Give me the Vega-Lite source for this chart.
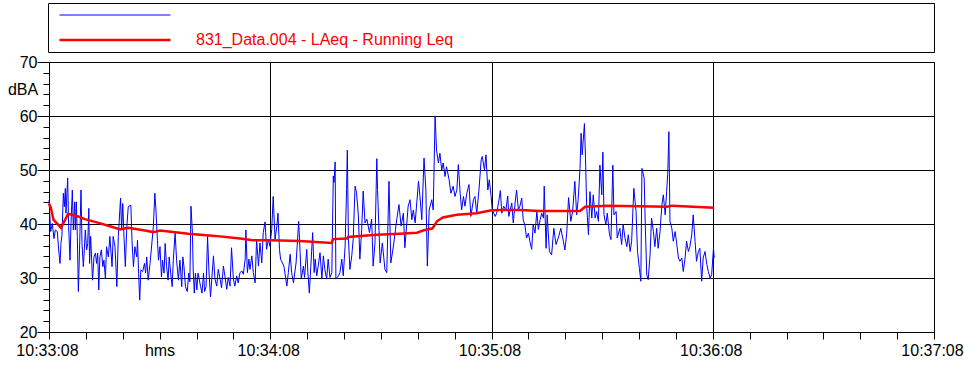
{
  "$schema": "https://vega.github.io/schema/vega-lite/v6.json",
  "autosize": "none",
  "width": 885,
  "height": 270,
  "padding": {"left": 49, "top": 62, "right": 30, "bottom": 33},
  "background": "white",
  "config": {
    "font": "Liberation Sans",
    "view": {"stroke": "black", "strokeWidth": 1},
    "axis": {
      "labelFont": "Liberation Sans",
      "labelFontSize": 16,
      "labelColor": "black",
      "titleFont": "Liberation Sans",
      "titleFontSize": 16,
      "titleFontWeight": "normal",
      "titleColor": "black",
      "domainColor": "black",
      "tickColor": "black",
      "gridColor": "black",
      "gridOpacity": 1,
      "labelFlush": false,
      "labelOverlap": false
    }
  },
  "datasets": {
    "laeq": [
      {"t":0,"v":44.4},{"t":0.45,"v":38.6},{"t":0.9,"v":40.1},{"t":1.36,"v":37.3},{"t":1.72,"v":38.9},{"t":2.26,"v":38.6},{"t":2.62,"v":35.2},{"t":2.98,"v":32.7},{"t":3.25,"v":36.4},{"t":3.52,"v":38.0},{"t":3.89,"v":45.7},{"t":4.16,"v":43.2},{"t":4.43,"v":46.6},{"t":4.61,"v":42.0},{"t":5.06,"v":48.5},{"t":5.33,"v":39.5},{"t":5.7,"v":33.3},{"t":5.97,"v":40.1},{"t":6.33,"v":46.3},{"t":6.6,"v":38.9},{"t":6.96,"v":44.1},{"t":7.14,"v":38.9},{"t":7.41,"v":44.1},{"t":7.68,"v":37.7},{"t":7.96,"v":27.5},{"t":8.23,"v":33.9},{"t":8.68,"v":46.3},{"t":8.95,"v":36.4},{"t":9.31,"v":32.1},{"t":9.58,"v":35.2},{"t":9.85,"v":38.9},{"t":10.2,"v":35.2},{"t":10.5,"v":36.4},{"t":10.8,"v":42.9},{"t":11.0,"v":32.7},{"t":11.3,"v":37.7},{"t":11.8,"v":29.6},{"t":12.2,"v":33.9},{"t":12.6,"v":34.6},{"t":12.9,"v":32.7},{"t":13.2,"v":34.6},{"t":13.5,"v":27.8},{"t":13.8,"v":33.9},{"t":14.2,"v":35.2},{"t":14.6,"v":32.1},{"t":14.9,"v":33.3},{"t":15.3,"v":29.9},{"t":15.6,"v":35.8},{"t":16.1,"v":33.9},{"t":16.5,"v":37.7},{"t":17.1,"v":32.1},{"t":17.4,"v":37.7},{"t":17.9,"v":35.8},{"t":18.4,"v":28.4},{"t":18.8,"v":37.7},
      {"t":19.4,"v":44.8},{"t":19.7,"v":38.9},{"t":20.0,"v":43.8},{"t":20.3,"v":38.3},{"t":20.7,"v":32.1},{"t":21.1,"v":39.5},{"t":21.5,"v":43.2},{"t":22.2,"v":43.5},{"t":22.5,"v":37.0},{"t":22.9,"v":32.1},{"t":23.3,"v":35.8},{"t":23.8,"v":33.9},{"t":24.0,"v":37.0},{"t":24.3,"v":30.9},{"t":24.6,"v":25.9},{"t":24.9,"v":31.5},{"t":25.4,"v":31.2},{"t":25.9,"v":32.7},{"t":26.2,"v":30.9},{"t":26.5,"v":33.9},{"t":26.9,"v":29.6},{"t":27.4,"v":32.7},{"t":28.3,"v":39.5},{"t":28.7,"v":45.7},{"t":29.0,"v":42.6},{"t":29.4,"v":37.0},{"t":29.7,"v":33.3},{"t":30.1,"v":35.8},{"t":30.5,"v":30.2},{"t":30.8,"v":33.3},{"t":31.2,"v":30.9},{"t":31.5,"v":36.4},{"t":31.9,"v":32.1},{"t":32.3,"v":29.6},{"t":32.6,"v":33.9},{"t":33.0,"v":30.9},{"t":33.4,"v":28.4},{"t":33.7,"v":33.3},{"t":34.2,"v":38.3},{"t":34.6,"v":33.3},{"t":35.1,"v":29.6},{"t":35.5,"v":33.3},{"t":36.0,"v":28.4},{"t":36.3,"v":33.9},{"t":36.6,"v":32.1},{"t":37.0,"v":28.4},{"t":37.5,"v":27.5},{"t":37.9,"v":30.9},{"t":38.2,"v":29.3},{"t":38.5,"v":43.3},{"t":38.9,"v":38.3},{"t":39.1,"v":31.5},{"t":39.4,"v":27.2},{"t":39.7,"v":30.9},{"t":40.1,"v":27.8},{"t":40.4,"v":30.9},{"t":40.8,"v":29.6},{"t":41.1,"v":28.4},{"t":41.5,"v":27.2},{"t":41.9,"v":30.9},{"t":42.2,"v":27.5},{"t":42.6,"v":28.4},{"t":43.0,"v":37.7},{"t":43.4,"v":30.9},{"t":43.8,"v":26.5},
      {"t":44.6,"v":34.1},{"t":45.0,"v":29.8},{"t":45.5,"v":28.5},{"t":45.9,"v":31.6},{"t":46.4,"v":29.8},{"t":46.8,"v":28.2},{"t":47.3,"v":32.2},{"t":47.7,"v":30.4},{"t":48.2,"v":27.9},{"t":48.6,"v":30.1},{"t":49.1,"v":28.5},{"t":49.5,"v":35.6},{"t":50.0,"v":29.8},{"t":50.4,"v":28.5},{"t":50.9,"v":30.4},{"t":51.3,"v":29.1},{"t":51.8,"v":31.0},{"t":52.3,"v":31.3},{"t":52.7,"v":30.7},{"t":53.2,"v":33.5},{"t":53.4,"v":38.9},{"t":53.8,"v":31.0},{"t":54.2,"v":33.5},{"t":54.5,"v":31.6},{"t":55.0,"v":34.1},{"t":55.4,"v":31.0},{"t":55.9,"v":29.1},{"t":56.3,"v":37.2},{"t":56.8,"v":32.2},{"t":57.2,"v":36.5},{"t":57.7,"v":32.8},{"t":58.1,"v":38.4},{"t":58.6,"v":40.4},{"t":59.0,"v":35.3},{"t":59.5,"v":37.2},{"t":59.9,"v":35.9},{"t":60.4,"v":39.0},{"t":60.8,"v":45.1},{"t":61.3,"v":37.2},{"t":61.8,"v":39.6},{"t":62.1,"v":42.0},{"t":62.5,"v":35.3},{"t":62.8,"v":33.5},{"t":63.7,"v":32.2},{"t":64.5,"v":28.5},{"t":64.9,"v":31.0},{"t":65.4,"v":34.4},{"t":65.8,"v":31.0},{"t":66.3,"v":29.1},{"t":67.0,"v":32.8},{"t":67.3,"v":35.9},{"t":67.7,"v":40.5},{"t":68.1,"v":34.7},{"t":68.4,"v":29.8},{"t":69.0,"v":32.2},{"t":69.3,"v":30.1},{"t":69.9,"v":35.3},{"t":70.2,"v":31.0},{"t":70.6,"v":27.2},{"t":71.0,"v":32.2},{"t":71.5,"v":38.4},{"t":71.9,"v":31.0},{"t":72.2,"v":33.5},{"t":72.6,"v":30.4},{"t":73.0,"v":32.2},{"t":73.5,"v":34.7},{"t":74.0,"v":29.8},{"t":74.4,"v":34.1},{"t":74.8,"v":31.6},{"t":75.3,"v":29.8},{"t":75.7,"v":33.5},{"t":76.2,"v":30.1},{"t":76.7,"v":31.0},{"t":77.1,"v":48.9},{"t":77.3,"v":47.7},{"t":77.6,"v":51.5},{"t":77.8,"v":29.8},{"t":78.5,"v":30.4},{"t":78.9,"v":31.0},{"t":79.4,"v":33.5},{"t":79.8,"v":30.4},{"t":80.3,"v":35.9},{"t":80.7,"v":46.4},{"t":80.9,"v":53.7},{"t":81.2,"v":37.2},{"t":81.6,"v":31.6},{"t":82.1,"v":34.1},{"t":82.5,"v":37.2},{"t":83.0,"v":47.0},{"t":83.4,"v":45.8},{"t":83.9,"v":41.5},{"t":84.3,"v":33.5},{"t":84.8,"v":39.0},{"t":85.2,"v":46.1},{"t":85.7,"v":40.2},{"t":86.2,"v":40.9},{"t":86.9,"v":38.4},{"t":87.5,"v":40.9},{"t":87.9,"v":32.2},{"t":88.4,"v":36.5},{"t":88.9,"v":52.1},{"t":89.1,"v":46.4},
      {"t":89.8,"v":32.8},{"t":90.4,"v":36.5},{"t":91.1,"v":31.6},{"t":91.6,"v":31.0},{"t":92.2,"v":47.9},{"t":92.7,"v":32.8},{"t":93.4,"v":35.9},{"t":94.3,"v":40.8},{"t":94.9,"v":43.6},{"t":95.5,"v":39.6},{"t":96.1,"v":42.0},{"t":96.5,"v":35.6},{"t":97.4,"v":43.3},{"t":97.9,"v":44.5},{"t":98.4,"v":40.8},{"t":98.8,"v":42.6},{"t":99.3,"v":40.2},{"t":100.2,"v":47.9},{"t":100.6,"v":45.1},{"t":101.1,"v":40.8},{"t":101.7,"v":52.2},{"t":102.2,"v":46.3},{"t":102.6,"v":32.2},{"t":103.1,"v":42.6},{"t":103.8,"v":44.5},{"t":104.2,"v":42.6},{"t":104.7,"v":60.0},{"t":105.1,"v":53.7},{"t":105.6,"v":51.3},{"t":106.0,"v":53.1},{"t":106.5,"v":50.0},{"t":106.9,"v":51.3},{"t":107.4,"v":48.8},{"t":107.8,"v":50.6},{"t":108.5,"v":48.2},{"t":109.0,"v":45.7},{"t":109.6,"v":47.0},{"t":110.1,"v":45.1},{"t":110.6,"v":46.3},{"t":111.0,"v":51.0},{"t":111.5,"v":45.7},{"t":111.9,"v":42.6},{"t":112.4,"v":45.1},{"t":112.8,"v":43.3},{"t":113.3,"v":45.7},{"t":113.9,"v":47.3},{"t":114.4,"v":41.4},{"t":115.1,"v":44.5},{"t":115.5,"v":45.1},{"t":116.0,"v":42.0},{"t":116.6,"v":46.3},{"t":117.2,"v":51.9},{"t":117.5,"v":52.5},{"t":118.1,"v":50.0},{"t":118.5,"v":52.8},{"t":119.0,"v":46.3},{"t":119.4,"v":48.2},{"t":119.9,"v":45.1},{"t":120.2,"v":42.6},{"t":121.0,"v":41.4},{"t":121.4,"v":42.0},{"t":121.9,"v":43.9},{"t":122.4,"v":46.2},{"t":122.8,"v":42.0},{"t":123.3,"v":43.3},{"t":123.9,"v":42.6},{"t":124.4,"v":45.2},{"t":124.7,"v":41.4},{"t":125.5,"v":43.9},{"t":125.9,"v":40.2},{"t":126.4,"v":43.9},{"t":126.8,"v":46.3},{"t":127.3,"v":42.6},{"t":127.7,"v":43.3},{"t":128.2,"v":44.8},{"t":128.6,"v":40.8},{"t":129.1,"v":39.6},{"t":129.5,"v":37.4},{"t":130.0,"v":38.3},{"t":130.4,"v":36.8},{"t":130.9,"v":35.3},{"t":131.3,"v":39.9},{"t":131.8,"v":38.3},{"t":132.3,"v":42.3},{"t":132.7,"v":39.0},{"t":133.2,"v":40.8},{"t":133.6,"v":42.0},{"t":134.1,"v":41.1},{"t":134.3,"v":47.0},
      {"t":134.8,"v":35.5},{"t":135.1,"v":41.7},{"t":135.7,"v":34.9},{"t":136.3,"v":34.3},{"t":136.9,"v":39.2},{"t":137.5,"v":36.2},{"t":138.1,"v":37.4},{"t":138.8,"v":39.2},{"t":139.5,"v":36.8},{"t":139.9,"v":35.2},{"t":140.4,"v":38.3},{"t":140.9,"v":44.9},{"t":141.5,"v":40.5},{"t":142.0,"v":42.3},{"t":142.6,"v":47.9},{"t":143.1,"v":41.7},{"t":143.5,"v":44.5},{"t":144.0,"v":50.3},{"t":144.3,"v":56.8},{"t":144.6,"v":52.8},{"t":145.2,"v":58.6},{"t":145.5,"v":52.2},{"t":145.8,"v":43.5},{"t":146.3,"v":38.0},{"t":146.7,"v":46.0},{"t":147.2,"v":41.1},{"t":147.6,"v":45.4},{"t":148.1,"v":41.1},{"t":148.5,"v":42.3},{"t":149.0,"v":40.5},{"t":149.4,"v":50.9},{"t":149.9,"v":45.4},{"t":150.2,"v":53.3},{"t":150.5,"v":41.7},{"t":151.0,"v":39.9},{"t":151.4,"v":42.0},{"t":152.0,"v":38.0},{"t":152.4,"v":37.1},{"t":152.9,"v":50.9},{"t":153.2,"v":41.7},{"t":153.8,"v":42.3},{"t":154.1,"v":37.4},{"t":154.8,"v":39.2},{"t":155.3,"v":36.2},{"t":155.7,"v":39.9},{"t":156.2,"v":37.4},{"t":156.7,"v":35.8},{"t":157.1,"v":38.0},{"t":157.6,"v":34.9},{"t":158.0,"v":36.8},{"t":158.6,"v":46.6},{"t":159.2,"v":42.3},{"t":159.6,"v":34.9},{"t":160.1,"v":31.8},{"t":160.5,"v":29.4},{"t":160.8,"v":50.3},{"t":161.4,"v":48.5},{"t":161.7,"v":39.9},{"t":162.1,"v":30.6},{"t":162.5,"v":29.7},{"t":163.0,"v":34.3},{"t":163.4,"v":41.1},{"t":163.9,"v":38.6},{"t":164.3,"v":35.8},{"t":164.8,"v":39.2},{"t":165.2,"v":35.5},{"t":165.7,"v":38.6},{"t":166.2,"v":43.5},{"t":166.6,"v":45.4},{"t":167.1,"v":41.7},{"t":167.5,"v":46.0},{"t":167.8,"v":49.4},{"t":168.1,"v":57.1},{"t":168.4,"v":40.5},{"t":168.9,"v":39.2},{"t":169.3,"v":36.8},{"t":169.8,"v":38.6},{"t":170.2,"v":36.5},{"t":170.7,"v":33.7},{"t":171.1,"v":33.1},{"t":171.6,"v":33.7},{"t":172.0,"v":31.2},{"t":172.5,"v":33.7},{"t":172.9,"v":36.8},{"t":173.4,"v":34.9},{"t":173.8,"v":35.8},{"t":174.3,"v":38.0},{"t":174.7,"v":41.7},{"t":175.2,"v":36.8},{"t":175.6,"v":33.1},{"t":176.1,"v":34.9},{"t":176.5,"v":35.5},{"t":177.0,"v":29.4},{"t":177.4,"v":33.7},{"t":177.9,"v":34.9},{"t":178.4,"v":32.5},{"t":178.8,"v":31.2},{"t":179.3,"v":30.0},{"t":179.7,"v":30.6},{"t":180.2,"v":35.5},{"t":180.4,"v":33.7}
    ],
    "leq": [
      {"t":0,"v":43.8},{"t":0.5,"v":43.0},{"t":1.2,"v":40.8},{"t":3.25,"v":39.3},{"t":5.2,"v":41.9},{"t":7.9,"v":41.4},{"t":9.7,"v":40.9},{"t":12.5,"v":40.4},{"t":17,"v":39.5},{"t":19.3,"v":39.0},{"t":21.5,"v":39.3},{"t":26,"v":38.8},{"t":28.3,"v":38.5},{"t":30.1,"v":38.8},{"t":37.8,"v":38.2},{"t":45,"v":37.8},{"t":51.8,"v":37.3},{"t":55.3,"v":37.0},{"t":60,"v":37.0},{"t":68,"v":36.85},{"t":76.7,"v":36.5},{"t":77,"v":37.2},{"t":80.8,"v":37.3},{"t":81.1,"v":37.6},{"t":88.9,"v":38.0},{"t":95,"v":38.2},{"t":99.8,"v":38.4},{"t":101.4,"v":38.8},{"t":104,"v":39.2},{"t":105.2,"v":40.5},{"t":106.8,"v":41.2},{"t":110.6,"v":41.7},{"t":116,"v":42.0},{"t":119.6,"v":42.5},{"t":122.3,"v":42.6},{"t":127.7,"v":42.6},{"t":133,"v":42.4},{"t":144,"v":42.4},{"t":145.4,"v":43.2},{"t":151.3,"v":43.4},{"t":160,"v":43.3},{"t":167.6,"v":43.2},{"t":169,"v":43.4},{"t":180.3,"v":43.0}
    ]
  },
  "layer": [
    {
      "data": {"name": "laeq"},
      "mark": {"type": "line", "strokeWidth": 1},
      "encoding": {
        "x": {
          "field": "t", "type": "quantitative",
          "scale": {"domain": [0, 240], "nice": false, "zero": false},
          "axis": {
            "orient": "bottom",
            "values": [0, 60, 120, 180, 240],
            "labelExpr": "'10:' + (33 + datum.value / 60) + ':08'",
            "tickSize": 7,
            "labelPadding": 3,
            "labelOffset": -2,
            "grid": true,
            "title": "hms",
            "titleX": 110.5,
            "titleY": 10,
            "titleAlign": "center",
            "titleBaseline": "top"
          }
        },
        "y": {
          "field": "v", "type": "quantitative",
          "scale": {"domain": [20, 70], "nice": false, "zero": false},
          "axis": {
            "orient": "left",
            "values": [20, 30, 40, 50, 60, 70],
            "tickSize": 12,
            "labelPadding": 0,
            "grid": true,
            "title": "dBA",
            "titleAngle": 0,
            "titleX": -26.5,
            "titleY": 27,
            "titleAlign": "center",
            "titleBaseline": "middle"
          }
        },
        "color": {
          "datum": "LAeq", "type": "nominal",
          "scale": {"domain": ["LAeq", "831_Data.004 - LAeq - Running Leq"], "range": ["#0000ff", "#ff0000"]},
          "legend": {
            "title": null,
            "orient": "none",
            "legendX": -1,
            "legendY": -59,
            "direction": "vertical",
            "strokeColor": "black",
            "fillColor": "white",
            "padding": 4,
            "rowPadding": 9,
            "symbolType": "M-0.8,0M-0.1,0H22.1M173,0",
            "symbolSize": 100,
            "symbolStrokeWidth": 1,
            "labelFont": "Liberation Sans",
            "labelFontSize": 16,
            "labelColor": "#ff0000",
            "labelLimit": 600,
            "labelOffset": 128,
            "labelExpr": "datum.value === 'LAeq' ? '' : datum.value",
            "encode": {
              "symbols": {
                "update": {
                  "stroke": {"scale": "color", "field": "value"},
                  "fill": {"value": "transparent"},
                  "strokeWidth": {"signal": "datum.value === 'LAeq' ? 1 : 2.5"}
                }
              }
            }
          }
        }
      }
    },
    {
      "data": {"name": "leq"},
      "mark": {"type": "line", "strokeWidth": 2.5},
      "encoding": {
        "x": {
          "field": "t", "type": "quantitative",
          "axis": {
            "orient": "bottom",
            "values": [10, 20, 30, 40, 50, 70, 80, 90, 100, 110, 130, 140, 150, 160, 170, 190, 200, 210, 220, 230],
            "labels": false, "grid": false, "domain": false, "tickSize": 7, "title": null
          }
        },
        "y": {
          "field": "v", "type": "quantitative",
          "axis": {
            "orient": "left",
            "values": [22, 24, 26, 28, 32, 34, 36, 38, 42, 44, 46, 48, 52, 54, 56, 58, 62, 64, 66, 68],
            "labels": false, "grid": false, "domain": false, "tickSize": 6, "title": null
          }
        },
        "color": {"datum": "831_Data.004 - LAeq - Running Leq", "type": "nominal"}
      }
    }
  ],
  "resolve": {"axis": {"x": "independent", "y": "independent"}}
}
